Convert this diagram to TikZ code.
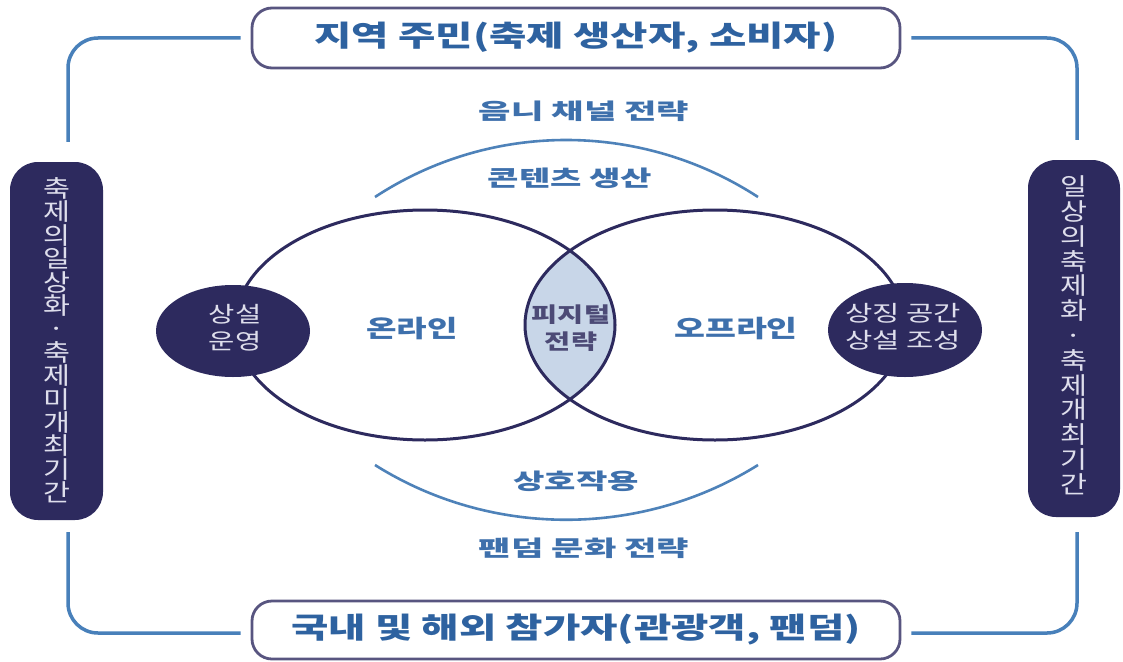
\documentclass[tikz,border=0pt]{standalone}
\usepackage{fontspec}
\usepackage{graphicx}
\setmainfont{Noto Sans CJK KR}
\definecolor{navy}{RGB}{45,42,94}
\definecolor{framebl}{RGB}{72,128,186}
\definecolor{arcbl}{RGB}{78,130,185}
\definecolor{txtbl}{RGB}{46,98,160}
\definecolor{lblbl}{RGB}{62,112,172}
\definecolor{boxgray}{RGB}{88,85,128}
\definecolor{lensfill}{RGB}{200,214,232}
\definecolor{pale}{RGB}{222,222,236}
\newcommand{\sx}[2][1.3]{\scalebox{#1}[1]{#2}}
\newcommand{\stk}[2][1.3]{\scalebox{#1}[1]{\begin{tabular}{@{}c@{}}#2\end{tabular}}}
\newcommand{\vs}[1]{\smash{#1}}
\begin{document}
\begin{tikzpicture}[x=1pt,y=-1pt,
  frame/.style={draw=framebl, line width=3.5pt, rounded corners=30pt},
  arcline/.style={draw=arcbl, line width=2.6pt},
  ring/.style={draw=navy, line width=3pt},
  pbox/.style={draw=boxgray, line width=2.8pt, fill=white, rounded corners=20pt, inner sep=0pt,
    font=\fontsize{29}{31}\selectfont\bfseries, text=txtbl},
  vbox/.style={fill=navy, rounded corners=28pt, inner sep=0pt},
  vtxt/.style={text=pale, inner sep=0pt},
  lbl/.style={text=lblbl, font=\fontsize{22}{24}\selectfont\bfseries, inner sep=0pt},
  inlbl/.style={text=lblbl, font=\fontsize{24}{26}\selectfont\bfseries, inner sep=0pt},
  darktxt/.style={text=pale, font=\fontsize{22}{27}\selectfont, inner sep=0pt},
]
\useasboundingbox (0,0) rectangle (1123,661);
\fill[white] (0,0) rectangle (1123,661);

% top and bottom boxes
\node[pbox, minimum width=648pt, minimum height=60pt] (top) at (576,38) {\sx[1.4]{지역 주민(축제 생산자, 소비자)}};
\node[pbox, minimum width=648pt, minimum height=58pt] (bot) at (576,630) {\sx[1.4]{국내 및 해외 참가자(관광객, 팬덤)}};

% side boxes
\node[vbox, minimum width=93pt, minimum height=358pt] (lbox) at (56.5,341) {};
\node[vbox, minimum width=92pt, minimum height=357pt] (rbox) at (1074,338.5) {};
\node[vtxt, font=\fontsize{24}{23.4}\selectfont, yshift=-4pt] (ltxt) at (lbox.center)
  {\stk[1.22]{\vs{축}\\\vs{제}\\\vs{의}\\\vs{일}\\\vs{상}\\\vs{화}\\\vs{·}\\\vs{축}\\\vs{제}\\\vs{미}\\\vs{개}\\\vs{최}\\\vs{기}\\\vs{간}}};
\node[vtxt, font=\fontsize{24}{24.8}\selectfont, yshift=-1pt] (rtxt) at (rbox.center)
  {\stk[1.22]{\vs{일}\\\vs{상}\\\vs{의}\\\vs{축}\\\vs{제}\\\vs{화}\\\vs{·}\\\vs{축}\\\vs{제}\\\vs{개}\\\vs{최}\\\vs{기}\\\vs{간}}};

% frame connectors
\draw[frame] ([xshift=-10pt]top.west) -| ([xshift=11.5pt,yshift=20pt]lbox.north);
\draw[frame] ([xshift=10pt]top.east) -| ([xshift=3pt,yshift=20pt]rbox.north);
\draw[frame] ([xshift=-10pt,yshift=-3pt]bot.west) -| ([xshift=11.5pt,yshift=-12pt]lbox.south);
\draw[frame] ([xshift=10pt,yshift=-3pt]bot.east) -| ([xshift=3pt,yshift=-15pt]rbox.south);

% arcs
\draw[arcline] (375,197) .. controls (491,121) and (641,121) .. (758,197);
\draw[arcline] (375,465) .. controls (491,538) and (641,538) .. (758,465);

% venn
\begin{scope}
  \clip (425,325) ellipse [x radius=190, y radius=115];
  \fill[lensfill] (715,325) ellipse [x radius=190, y radius=115];
\end{scope}
\draw[ring] (425,325) ellipse [x radius=190, y radius=115];
\draw[ring] (715,325) ellipse [x radius=190, y radius=115];

% dark ellipses
\fill[navy] (233,331) ellipse [x radius=77, y radius=46];
\fill[navy] (905,330) ellipse [x radius=77, y radius=47];
\node[darktxt] (sangseol) at (235,331) {\stk{상설\\운영}};
\node[darktxt] (sangjing) at (903,330) {\stk[1.35]{상징 공간\\상설 조성}};

% labels
\node[lbl] (omni) at (584,111) {\sx[1.6]{음니 채널 전략}};
\node[lbl] (content) at (570,178) {\sx[1.55]{콘텐츠 생산}};
\node[lbl] (inter) at (576,481) {\sx[1.55]{상호작용}};
\node[lbl] (fandom) at (584,548) {\sx[1.6]{팬덤 문화 전략}};
\node[inlbl] (online) at (412,329) {\sx[1.38]{온라인}};
\node[inlbl] (offline) at (736,329) {\sx[1.4]{오프라인}};
\node[text=navy!85, font=\fontsize{21}{27}\selectfont\bfseries, inner sep=0pt] (phygital) at (571,331) {\stk[1.35]{피지털\\전략}};
\end{tikzpicture}
\end{document}
